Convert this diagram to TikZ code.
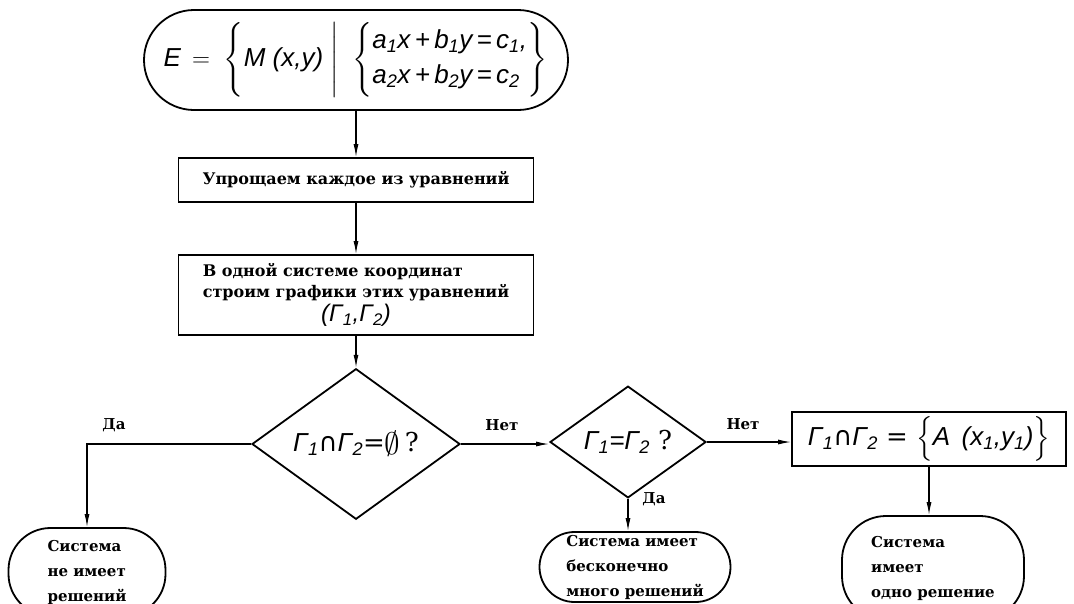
\documentclass[tikz,border=0pt]{standalone}
\usepackage{fontspec}
\usepackage{amsmath}
\usepackage{graphicx}
\setmainfont{DejaVu Serif}
\newfontfamily\formfont{Liberation Sans}
\newfontfamily\symfont{DejaVu Sans}
\usetikzlibrary{shapes.geometric,arrows.meta}

% slanted sans lettering used for the formulas
\newcommand{\fm}[1]{\mbox{\formfont\mdseries\itshape #1}}
\newcommand{\sbs}[1]{\textsubscript{#1}}
\newcommand{\isect}{\mbox{\symfont\mdseries ∩}}
\newcommand{\nullset}{\raisebox{-0.12em}{\scalebox{1.25}{$\emptyset$}}}
\newcommand{\tallstrut}[1]{\vcenter{\hbox{\rule{0pt}{#1}}}}

\begin{document}
\begin{tikzpicture}[x=1pt,y=-1pt,
  every node/.style={font=\bfseries\fontsize{16}{21}\selectfont},
  outline/.style={draw, line width=1.8pt},
  terminal/.style={outline, rounded corners=#1, inner sep=0pt},
  procbox/.style={outline, inner sep=0pt},
  decision/.style={outline, diamond, inner sep=0pt},
  flow/.style={line width=1.2pt, -{Latex[length=13pt,width=5pt]}},
  tag/.style={inner sep=1pt, font=\bfseries\fontsize{15}{18}\selectfont},
  result/.style={font=\bfseries\fontsize{15}{25}\selectfont, align=left},
  formula/.style={font=\fontsize{26}{30}\selectfont}]

\useasboundingbox (0,0) rectangle (1074,603);

% start: the set of solutions
\node[terminal=50pt, minimum width=424pt, minimum height=100pt, formula] (E) at (356,60)
  {$\fm{E}\,=\;\left\{\tallstrut{66pt}\fm{M (x,y)}\;\middle|\;\;\left\{\tallstrut{66pt}
     \begin{array}{@{}l@{}}
       \fm{a\sbs{1}x\,+\,b\sbs{1}y\,=\,c\sbs{1},}\\[5pt]
       \fm{a\sbs{2}x\,+\,b\sbs{2}y\,=\,c\sbs{2}}
     \end{array}\right\}\right.$};

% processing steps
\node[procbox, minimum width=355pt, minimum height=44pt] (B1) at (356,180)
  {Упрощаем каждое из уравнений};
\node[procbox, minimum width=355pt, minimum height=80pt] (B2) at (356,295)
  {\begin{tabular}{@{}l@{}}
     В одной системе координат\\
     строим графики этих уравнений\\
     \multicolumn{1}{@{}c@{}}{\fontsize{24}{24}\selectfont\fm{(Γ\sbs{1},Γ\sbs{2})}}
   \end{tabular}};

% decisions
\node[decision, minimum width=208pt, minimum height=108pt, formula] (D1) at (356,444)
  {\fm{Γ\sbs{1}}\isect\fm{Γ\sbs{2}}=\nullset\,?};
\node[decision, minimum width=156pt, minimum height=76pt, formula] (D2) at (628,442)
  {\fm{Γ\sbs{1}=Γ\sbs{2}} ?};

% the single common point
\node[procbox, minimum width=274pt, minimum height=54pt, formula] (B3) at (929,439)
  {\fm{Γ\sbs{1}}\isect\fm{Γ\sbs{2}} = $\Big\{$\fm{A\, (x\sbs{1},y\sbs{1})}$\Big\}$};

% outcomes
\node[terminal=42pt, minimum width=157pt, minimum height=88pt, result] (L) at (87,572)
  {Система\\не имеет\\решений};
\node[terminal=35pt, minimum width=191pt, minimum height=70pt, result] (M) at (635,567)
  {Система имеет\\бесконечно\\много решений};
\node[terminal=44pt, minimum width=182pt, minimum height=104pt, result] (R) at (933,568)
  {Система\\имеет\\одно решение};

% connectors
\draw[flow] (E.south) -- (B1.north);
\draw[flow] (B1.south) -- (B2.north);
\draw[flow] (B2.south) -- (D1.north);
\draw[flow] (D1.west) -| (L.north);
\draw[flow] (D1.east) -- (D2.west |- D1.east);
\draw[flow] (D2.east) -- (B3.west |- D2.east);
\draw[flow] (D2.south) -- (D2.south |- M.north);
\draw[flow] (B3.south) -- (B3.south |- R.north);

% branch labels
\node[tag] (yes1) at (114,425) {Да};
\node[tag] (no1) at (502,425) {Нет};
\node[tag] (no2) at (743,424) {Нет};
\node[tag] (yes2) at (654,499) {Да};
\end{tikzpicture}
\end{document}
